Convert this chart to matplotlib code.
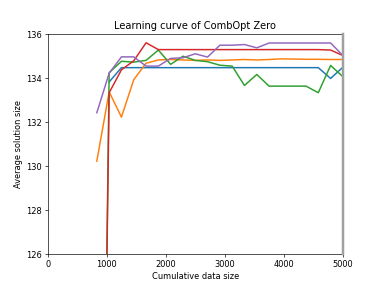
import matplotlib
matplotlib.use("Agg")
import matplotlib.pyplot as plt

# cumulative data size at each evaluation
data_size = [833, 1042, 1250, 1458, 1667, 1875, 2083, 2292, 2500, 2708, 2917,
             3125, 3333, 3542, 3750, 3958, 4167, 4375, 4583, 4792, 5000]

# one curve per run (first point missing where a run had no result yet)
run_blue = [None, 133.8, 134.45, 134.45, 134.45, 134.45, 134.45, 134.45, 134.45, 134.45, 134.45,
            134.45, 134.45, 134.45, 134.45, 134.45, 134.45, 134.45, 134.45, 133.96, 134.47]
run_orange = [130.2, 133.35, 132.2, 133.9, 134.65, 134.8, 134.82, 134.8, 134.78, 134.8, 134.78,
              134.8, 134.82, 134.8, 134.82, 134.85, 134.84, 134.83, 134.83, 134.82, 134.82]
run_green = [90.0, 134.22, 134.74, 134.7, 134.78, 135.25, 134.6, 134.97, 134.78, 134.72, 134.56,
             134.52, 133.64, 134.14, 133.61, 133.61, 133.61, 133.61, 133.31, 134.55, 134.04]
run_red = [92.0, 133.31, 134.35, 134.76, 135.58, 135.27, 135.27, 135.27, 135.27, 135.27, 135.27,
           135.27, 135.27, 135.27, 135.27, 135.27, 135.27, 135.27, 135.27, 135.25, 135.0]
run_purple = [132.4, 134.2, 134.94, 134.94, 134.52, 134.52, 134.87, 134.9, 135.08, 134.93, 135.47,
              135.47, 135.5, 135.35, 135.57, 135.57, 135.57, 135.57, 135.57, 135.57, 135.0]
runs = [run_blue, run_orange, run_green, run_red, run_purple]

fig, ax = plt.subplots(figsize=(6.4, 4.8), dpi=381 / 6.4)
for run in runs:
    xs = [x for x, v in zip(data_size, run) if v is not None]
    ys = [v for v in run if v is not None]
    ax.plot(xs, ys, lw=1.8)
# marker of the last evaluation, drawn over the right spine
ax.axvline(data_size[-1], color="#a0a0a0", lw=3, zorder=3, clip_on=False)

ax.set_xlim(0, 5000)
ax.set_ylim(126, 136)
ax.set_xticks([0, 1000, 2000, 3000, 4000, 5000])
ax.set_yticks([126, 128, 130, 132, 134, 136])
ax.set_xlabel("Cumulative data size")
ax.set_ylabel("Average solution size")
ax.set_title("Learning curve of CombOpt Zero")
fig.savefig("out.png", dpi=381 / 6.4)
